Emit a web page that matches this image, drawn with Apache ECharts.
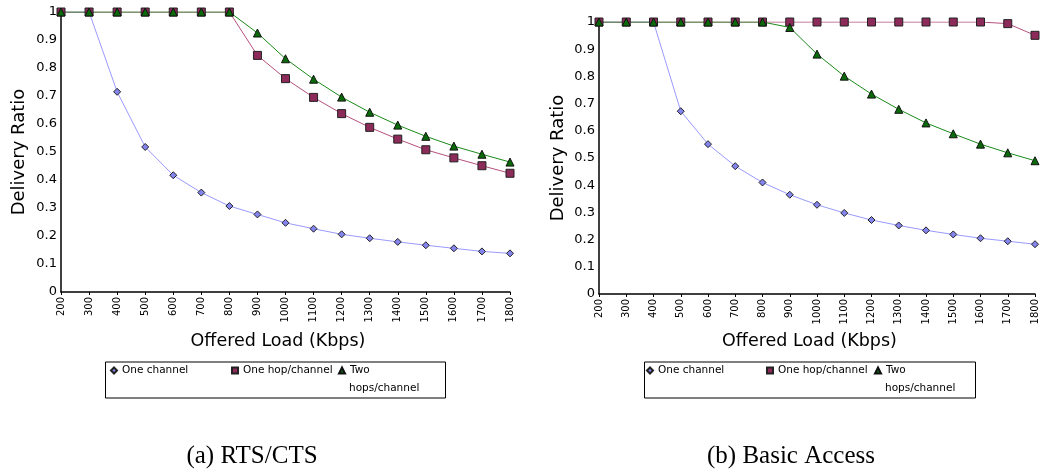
<!DOCTYPE html>
<html>
<head>
<meta charset="utf-8">
<script src="https://cdn.jsdelivr.net/npm/echarts@6/dist/echarts.min.js"></script>
<style>
  html, body { margin: 0; padding: 0; background: #fff; }
  #chart { width: 1042px; height: 470px; }
</style>
</head>
<body>
<div id="chart"></div>
<script>
// offered load (Kbps), shared x categories
const loads = [200, 300, 400, 500, 600, 700, 800, 900, 1000, 1100, 1200, 1300, 1400, 1500, 1600, 1700, 1800];
const yTicks = [0, 0.1, 0.2, 0.3, 0.4, 0.5, 0.6, 0.7, 0.8, 0.9, 1];
const seriesNames = ["One channel", "One hop/channel", "Two hops/channel"];

// (a) RTS/CTS
const rtsOneChannel = [1, 1, 0.715, 0.518, 0.417, 0.355, 0.307, 0.277, 0.247, 0.226, 0.206, 0.192, 0.179, 0.167, 0.156, 0.145, 0.138];
const rtsOneHop = [1, 1, 1, 1, 1, 1, 1, 0.845, 0.762, 0.695, 0.637, 0.588, 0.546, 0.508, 0.479, 0.451, 0.424];
const rtsTwoHops = [1, 1, 1, 1, 1, 1, 1, 0.925, 0.833, 0.76, 0.696, 0.642, 0.596, 0.556, 0.521, 0.492, 0.464];

// (b) Basic Access
const basicOneChannel = [1, 1, 1, 0.672, 0.551, 0.47, 0.41, 0.365, 0.328, 0.298, 0.272, 0.252, 0.234, 0.219, 0.205, 0.194, 0.183];
const basicOneHop = [1, 1, 1, 1, 1, 1, 1, 1, 1, 1, 1, 1, 1, 1, 1, 0.994, 0.951];
const basicTwoHops = [1, 1, 1, 1, 1, 1, 1, 0.98, 0.882, 0.801, 0.735, 0.679, 0.629, 0.589, 0.551, 0.519, 0.49];

const font = "DejaVu Sans";
const pairs = (ys) => loads.map((x, i) => [x, ys[i]]);

const xAxisBase = (gridIndex, gap) => ({
  gridIndex,
  type: "value",
  min: loads[0],
  max: loads[loads.length - 1],
  interval: 100,
  name: "Offered Load (Kbps)",
  nameLocation: "middle",
  nameGap: gap,
  nameTextStyle: { fontFamily: font, fontSize: 17.5, color: "#000", padding: [0, 15, 0, 0] },
  axisLine: { lineStyle: { color: "#000", width: 1.5 } },
  axisTick: { show: true, length: 3, lineStyle: { color: "#000" } },
  axisLabel: {
    rotate: 90, fontFamily: font, fontSize: 10, color: "#000", margin: 5,
    formatter: (v) => String(v),
  },
  splitLine: { show: false },
});

const yAxisBase = (gridIndex, gap) => ({
  gridIndex,
  type: "value",
  min: yTicks[0],
  max: yTicks[yTicks.length - 1],
  interval: 0.1,
  name: "Delivery Ratio",
  nameLocation: "middle",
  nameGap: gap,
  nameTextStyle: { fontFamily: font, fontSize: 18, color: "#000" },
  axisLine: { show: true, lineStyle: { color: "#000", width: 1.5 } },
  axisTick: { show: false },
  axisLabel: { fontFamily: font, fontSize: 13, color: "#000", margin: 4 },
  splitLine: { show: false },
});

const makeSeries = (idx, one, hop, two) => [
  {
    name: seriesNames[0],
    type: "line",
    xAxisIndex: idx,
    yAxisIndex: idx,
    data: pairs(one),
    symbol: "diamond",
    symbolSize: 7,
    lineStyle: { color: "#9a9aff", width: 1 },
    itemStyle: { color: "#8484ee", borderColor: "#222", borderWidth: 1 },
  },
  {
    name: seriesNames[1],
    type: "line",
    xAxisIndex: idx,
    yAxisIndex: idx,
    data: pairs(hop),
    symbol: "rect",
    symbolSize: 8,
    lineStyle: { color: "#b5507d", width: 1 },
    itemStyle: { color: "#8c2a5a", borderColor: "#222", borderWidth: 1 },
  },
  {
    name: seriesNames[2],
    type: "line",
    xAxisIndex: idx,
    yAxisIndex: idx,
    data: pairs(two),
    symbol: "triangle",
    symbolSize: 8,
    lineStyle: { color: "#1a8a1a", width: 1 },
    itemStyle: { color: "#0a6a0a", borderColor: "#111", borderWidth: 1 },
  },
];

const icons = ["diamond", "rect", "triangle"];
// one legend per entry so each can sit where the original put it
const legendItem = (i, left) => ({
  left,
  top: 365,
  padding: 0,
  icon: icons[i],
  itemWidth: 6,
  itemHeight: 6,
  textStyle: { fontFamily: font, fontSize: 10.5, color: "#000" },
  formatter: (name) => (name === seriesNames[2] ? "Two" : name),
  data: [seriesNames[i]],
});

const legendBox = (x, w, textX) => [
  {
    type: "rect",
    left: x,
    top: 359.5,
    shape: { width: w, height: 36 },
    style: { fill: "none", stroke: "#000", lineWidth: 1 },
  },
  {
    type: "text",
    left: textX,
    top: 382.5,
    style: { text: "hops/channel", fontFamily: font, fontSize: 10.5, fill: "#000" },
  },
];

const captionStyle = { fontFamily: "Liberation Serif", fontSize: 25, fontWeight: "normal", color: "#000" };

const chart = echarts.init(document.getElementById("chart"));
chart.setOption({
  animation: false,
  backgroundColor: "#fff",
  title: [
    { text: "(a) RTS/CTS", left: 247, top: 439, textAlign: "center", textStyle: captionStyle },
    { text: "(b) Basic Access", left: 786, top: 439, textAlign: "center", textStyle: captionStyle },
  ],
  legend: [
    legendItem(0, 110), legendItem(1, 231), legendItem(2, 338),
    legendItem(0, 646), legendItem(1, 766), legendItem(2, 874),
  ],
  graphic: [...legendBox(103, 340, 349), ...legendBox(642, 331, 885)],
  grid: [
    { left: 61, top: 12, width: 449, height: 280 },
    { left: 599, top: 22, width: 436, height: 272 },
  ],
  xAxis: [xAxisBase(0, 40), xAxisBase(1, 35)],
  yAxis: [yAxisBase(0, 33), yAxisBase(1, 32)],
  series: [
    ...makeSeries(0, rtsOneChannel, rtsOneHop, rtsTwoHops),
    ...makeSeries(1, basicOneChannel, basicOneHop, basicTwoHops),
  ],
});
</script>
</body>
</html>
